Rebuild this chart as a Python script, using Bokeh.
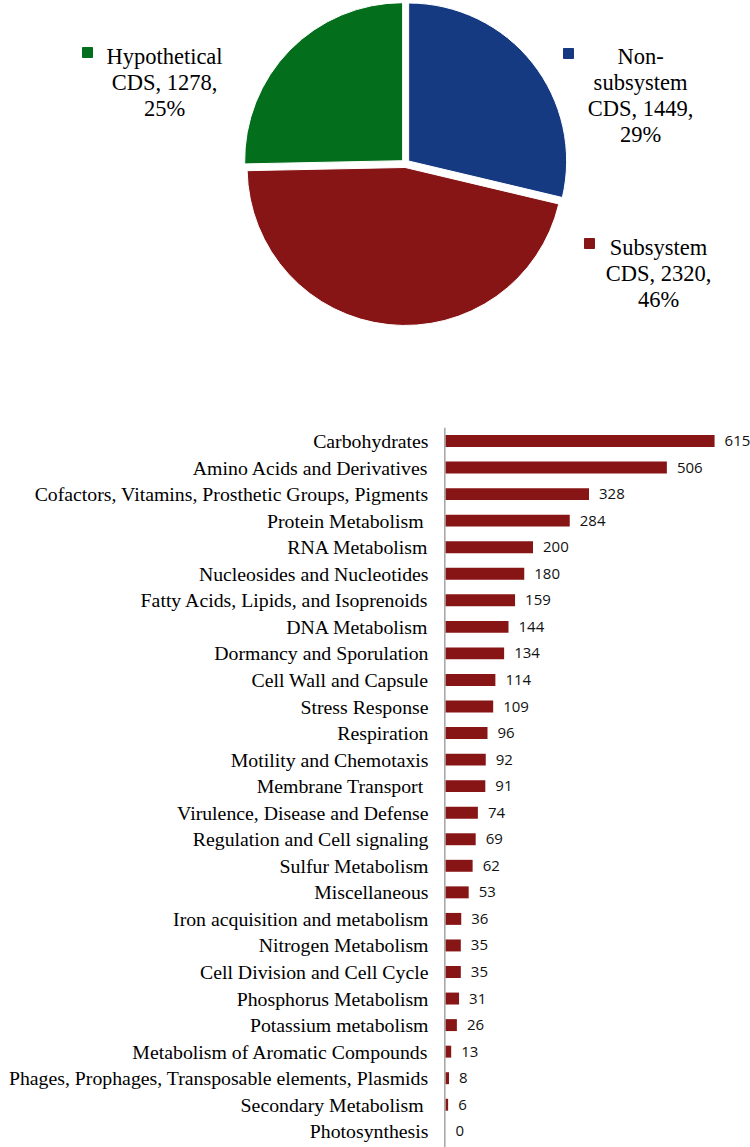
import math
from bokeh.plotting import figure
from bokeh.layouts import column
from bokeh.models import Range1d, ColumnDataSource, Span
from bokeh.core.properties import value
from bokeh.embed import file_html
from bokeh.resources import INLINE

# ---------------- data ----------------
pie_names = ["Non-subsystem CDS", "Subsystem CDS", "Hypothetical CDS"]
pie_counts = [1449, 2320, 1278]
pie_pcts = ["29%", "46%", "25%"]
pie_colors = ["#163A82", "#881515", "#036E1B"]
pie_label_lines = [["Non-", "subsystem", "CDS, 1449,", "29%"],
                   ["Subsystem", "CDS, 2320,", "46%"],
                   ["Hypothetical", "CDS, 1278,", "25%"]]

categories = ["Carbohydrates", "Amino Acids and Derivatives",
              "Cofactors, Vitamins, Prosthetic Groups, Pigments", "Protein Metabolism ",
              "RNA Metabolism", "Nucleosides and Nucleotides",
              "Fatty Acids, Lipids, and Isoprenoids", "DNA Metabolism",
              "Dormancy and Sporulation", "Cell Wall and Capsule", "Stress Response",
              "Respiration", "Motility and Chemotaxis", "Membrane Transport ",
              "Virulence, Disease and Defense", "Regulation and Cell signaling",
              "Sulfur Metabolism", "Miscellaneous", "Iron acquisition and metabolism",
              "Nitrogen Metabolism", "Cell Division and Cell Cycle",
              "Phosphorus Metabolism", "Potassium metabolism",
              "Metabolism of Aromatic Compounds",
              "Phages, Prophages, Transposable elements, Plasmids",
              "Secondary Metabolism ", "Photosynthesis"]
counts = [615, 506, 328, 284, 200, 180, 159, 144, 134, 114, 109, 96, 92, 91,
          74, 69, 62, 53, 36, 35, 35, 31, 26, 13, 8, 6, 0]

SERIF = value("Liberation Serif")
W = 750

# ---------------- pie ----------------
PIE_H = 427
pie = figure(width=W, height=PIE_H, output_backend="svg", toolbar_location=None,
             x_range=Range1d(0, W), y_range=Range1d(-PIE_H, 0),
             min_border=0, outline_line_color=None)
pie.axis.visible = False
pie.grid.visible = False

cx, cy, r, explode = 405, -163, 158, 4
total = sum(pie_counts)
start = math.pi / 2
xs, ys, sa, ea = [], [], [], []
for c in pie_counts:
    ang = 2 * math.pi * c / total
    end = start - ang
    mid = (start + end) / 2
    xs.append(cx + explode * math.cos(mid))
    ys.append(cy + explode * math.sin(mid))
    sa.append(end)
    ea.append(start)
    start = end
pie.wedge(x=xs, y=ys, radius=r, start_angle=sa, end_angle=ea,
          fill_color=pie_colors, line_color="white", line_width=1)

# label blocks: (marker x, marker y, text center x, first line y)
label_pos = [(568, 53, 640, 56), (589, 243, 658, 247), (87, 52, 164, 56)]
for (mx, my, tx, ty), lines, col in zip(label_pos, pie_label_lines, pie_colors):
    pie.scatter([mx], [-my], marker="square", size=10, fill_color=col, line_color=col)
    pie.text(x=[tx] * len(lines), y=[-(ty + 26 * k) for k in range(len(lines))],
             text=lines, text_font=SERIF, text_font_size="22.5px", text_color="black",
             text_align="center", text_baseline="middle")

# ---------------- bars ----------------
BAR_H = 1147 - PIE_H
n = len(categories)
ypos = [n - 1 - i for i in range(n)]
spacing = 26.55
top_pad = 13.5
y_end = (n - 1) + top_pad / spacing
y_start = y_end - BAR_H / spacing
px_per_unit = 0.4375
x_start = -445 / px_per_unit
x_end = x_start + W / px_per_unit

bars = figure(width=W, height=BAR_H, output_backend="svg", toolbar_location=None,
              x_range=Range1d(x_start, x_end), y_range=Range1d(y_start, y_end),
              min_border=0, outline_line_color=None)
bars.axis.visible = False
bars.grid.visible = False

src = ColumnDataSource(dict(y=ypos, v=counts, cat=categories,
                            zero=[0] * n, lbl=[str(c) for c in counts]))
bars.hbar(y="y", right="v", left=0, height=0.45, source=src,
          fill_color="#881515", line_color=None)
bars.text(x="v", y="y", text="lbl", source=src, x_offset=10,
          text_font=value("Open Sans"), text_font_size="15px", text_color="#111111",
          text_baseline="middle", text_align="left")
bars.text(x="zero", y="y", text="cat", source=src, x_offset=-17,
          text_font=SERIF, text_font_size="19.8px", text_color="black",
          text_baseline="middle", text_align="right")
bars.add_layout(Span(location=-1.5, dimension="height", line_color="#8C8C8C",
                     line_width=1.2))

layout = column(pie, bars, spacing=0)
open("out.html", "w").write(file_html(layout, INLINE))
